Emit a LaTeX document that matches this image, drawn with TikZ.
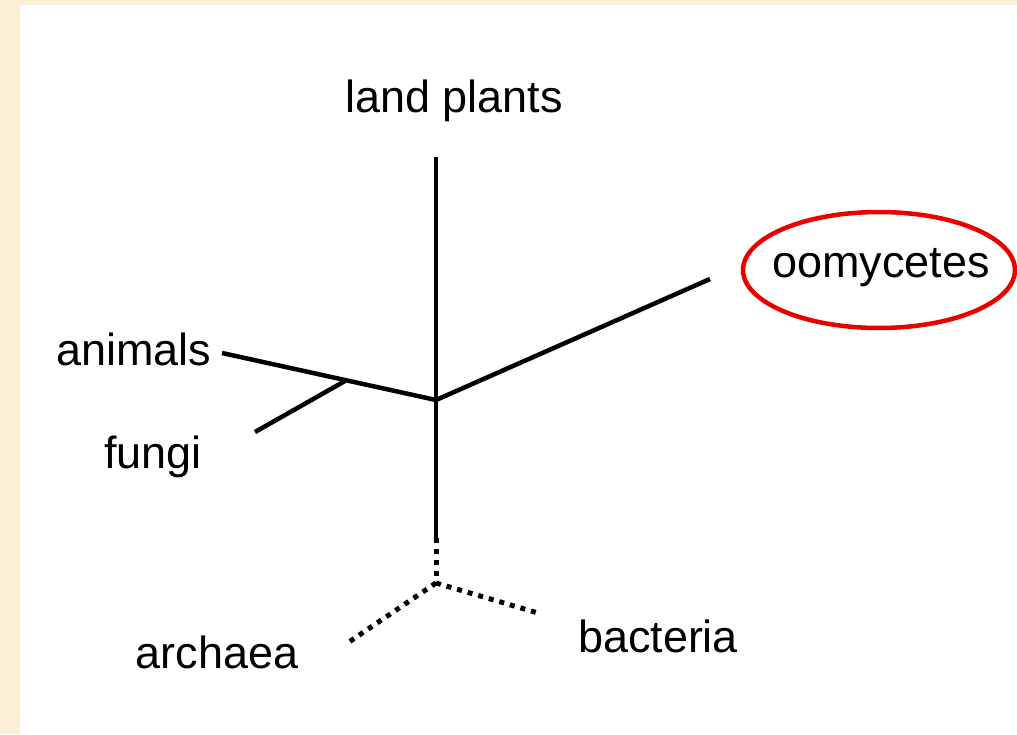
\documentclass[tikz,border=0pt]{standalone}
\usepackage{xcolor}
\usepackage{fontspec}
\setmainfont{Liberation Sans}
\usepackage{tikz}
\usetikzlibrary{shapes.geometric}

\definecolor{parch}{RGB}{251,239,213}
\definecolor{markred}{RGB}{235,0,0}

\begin{document}
\begin{tikzpicture}[x=0.02cm, y=-0.02cm,
        taxon/.style={anchor=base, inner sep=0pt, font=\fontsize{25.6}{30}\selectfont},
        branch/.style={line width=0.09cm},
        lost/.style={line width=0.1cm, dash pattern=on 0.1cm off 0.12cm}]
        \useasboundingbox (0,0) rectangle (1017,734);
        \fill[parch] (0,0) rectangle (1017,734);
        \fill[white] (20,5) rectangle (1017,734);

        \node[taxon] at (454, 112) (plants) {land plants};
        \node[taxon] at (881, 277) (oomy) {oomycetes};
        \node[taxon] at (134, 365) (animals) {animals};
        \node[taxon] at (153, 468) (fungi) {fungi};
        \node[taxon] at (217, 668) (archaea) {archaea};
        \node[taxon] at (658, 652) (bacteria) {bacteria};
        \node[draw=markred, ellipse, line width=0.09cm, minimum width=5.44cm, minimum height=2.32cm] at (879, 270) (mark) {};

        \coordinate (root) at (436, 400);
        \coordinate (tplants) at (436, 157);
        \coordinate (toomy) at (710, 279);
        \coordinate (tanimals) at (222, 353);
        \coordinate (split) at (345, 381);
        \coordinate (tfungi) at (255, 432);
        \coordinate (stem) at (436, 538);
        \coordinate (base) at (436, 583);
        \coordinate (tarchaea) at (346, 644);
        \coordinate (tbacteria) at (538, 613);

        \draw[branch] (tplants) -- (root);
        \draw[branch] (root) -- (toomy);
        \draw[branch] (tanimals) -- (root);
        \draw[branch] (tfungi) -- (split);
        \draw[branch] (root) -- (stem);
        \draw[lost] (stem) -- (base);
        \draw[lost] (base) -- (tarchaea);
        \draw[lost] (base) -- (tbacteria);
    \end{tikzpicture}
\end{document}
